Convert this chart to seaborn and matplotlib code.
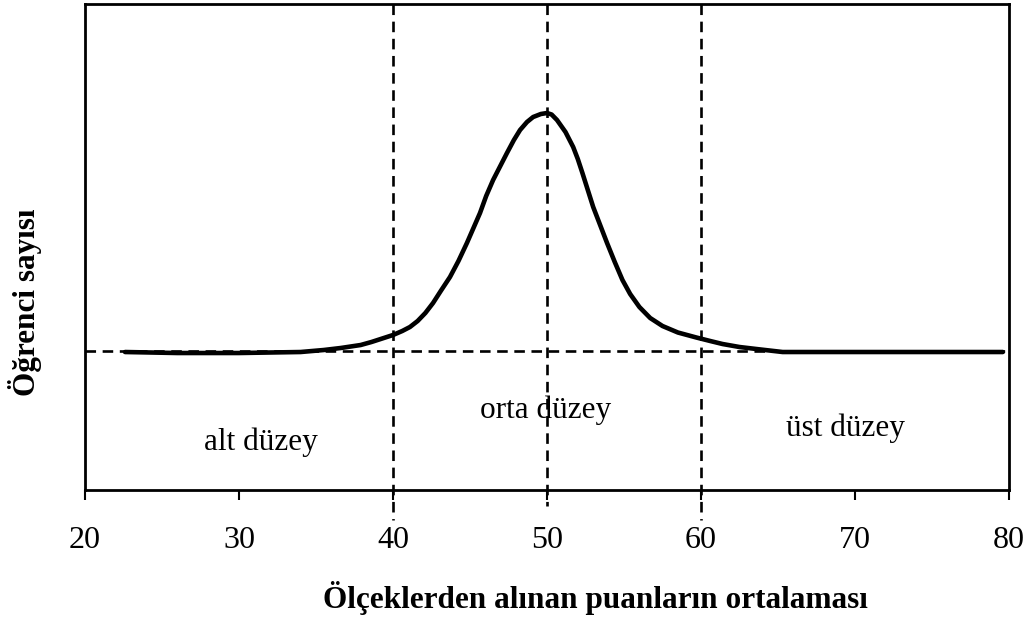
import pandas as pd
import matplotlib
matplotlib.use("Agg")
import matplotlib.pyplot as plt
import seaborn as sns

# Curve (x: score mean, y: relative number of students)
puan = [22.6, 26.0, 30.0, 34.0, 35.5, 36.6, 37.9, 38.6, 39.2, 40.0, 40.6, 41.1,
        41.6, 42.1, 42.6, 43.1, 43.7, 44.25, 44.8, 45.65, 46.05, 46.5, 47.0,
        47.4, 47.85, 48.25, 48.7, 49.1, 49.6, 50.0, 50.3, 50.65, 51.2, 51.7,
        52.0, 52.3, 52.65, 53.0, 53.45, 53.9, 54.4, 54.9, 55.4, 56.0, 56.7,
        57.5, 58.5, 59.7, 60.6, 61.4, 62.5, 63.6, 65.3, 72.3, 79.6]
ogrenci = [-1, -2, -2, -1, 1, 3, 6, 9, 12, 16, 20, 24,
           30, 38, 48, 60, 74, 90, 108, 138, 155, 171, 186,
           198, 211, 221, 229, 234, 237, 238, 236.5, 231, 219, 204,
           192, 178, 161, 144, 126, 108, 89, 71, 57, 44, 33,
           25, 18.5, 13.5, 10, 7, 4, 2, -1, -1, -1]

cut_points = [40, 50, 60]
cut_bottom = [-169, -155, -169]
levels = ["alt düzey", "orta düzey", "üst düzey"]
level_x = [31.4, 49.9, 69.4]
level_y = [-91, -59, -77]
xticks = [20, 30, 40, 50, 60, 70, 80]

sns.set_theme(style="white")
plt.rcParams["font.family"] = ["Liberation Serif", "DejaVu Serif"]
plt.rcParams["text.color"] = "black"
plt.rcParams["axes.labelcolor"] = "black"
plt.rcParams["xtick.color"] = "black"

fig = plt.figure(figsize=(10.35, 6.18), dpi=100)
ax = fig.add_axes([0.0821, 0.2071, 0.8928, 0.7864])

df = pd.DataFrame({"puan": puan, "ogrenci": ogrenci})
sns.lineplot(data=df, x="puan", y="ogrenci", ax=ax, color="black", linewidth=3.3,
             solid_joinstyle="round", solid_capstyle="round")

# Horizontal reference line
ax.plot([20, 80], [0, 0], color="black", linewidth=1.9, dashes=(4, 2.5))

# Vertical cut lines, running below the axis
for xc, yb in zip(cut_points, cut_bottom):
    ax.plot([xc, xc], [347, yb], color="black", linewidth=1.9, dashes=(4, 2.5),
            clip_on=False)

for txt, tx, ty in zip(levels, level_x, level_y):
    ax.text(tx, ty, txt, ha="center", va="center", fontsize=22.5, color="black")

ax.set_xlim(20, 80)
ax.set_ylim(-139, 347)
ax.set_xticks(xticks)
ax.set_xticklabels([str(t) for t in xticks], fontsize=23)
ax.set_yticks([])
ax.tick_params(axis="x", direction="out", length=7, width=1.5, pad=19,
               colors="black", bottom=True)

for s in ax.spines.values():
    s.set_color("black")
    s.set_linewidth(2)

ax.set_xlabel("Ölçeklerden alınan puanların ortalaması", fontsize=22.5,
              fontweight="bold", color="black")
ax.xaxis.set_label_coords(0.552, -0.222)
ax.xaxis.label.set_va("center")
ax.set_ylabel("Öğrenci sayısı", fontsize=22.5, fontweight="bold", color="black")
ax.yaxis.set_label_coords(-0.065, 0.387)
ax.yaxis.label.set_va("center")

fig.savefig("out.png", dpi=100)
